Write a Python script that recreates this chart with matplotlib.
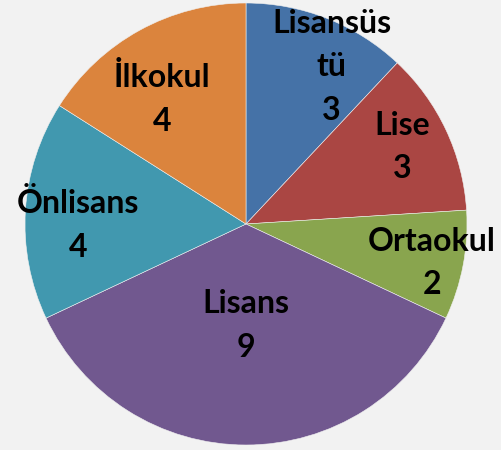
import numpy as np
import matplotlib.pyplot as plt

# Data
categories = ['Lisansüstü', 'Lise', 'Ortaokul', 'Lisans', 'Önlisans', 'İlkokul']
values = [3, 3, 2, 9, 4, 4]
display_names = ['Lisansüs\ntü', 'Lise', 'Ortaokul', 'Lisans', 'Önlisans', 'İlkokul']
colors = ['#4572A7', '#AA4643', '#89A54E', '#71588F', '#4198AF', '#DB843D']

# label placement (fraction of radius, angle offset in degrees)
label_dist = [0.81, 0.79, 0.86, 0.46, 0.76, 0.68]
label_shift = [-7, 1, -1, 0, 4, 5]

fig = plt.figure(figsize=(5.01, 4.5), dpi=100)
fig.patch.set_facecolor('#F2F2F2')
ax = fig.add_axes([25 / 501, 5 / 450, 442 / 501, 442 / 450])
ax.set_facecolor('#F2F2F2')

wedges, _ = ax.pie(values, colors=colors, startangle=90, counterclock=False,
                   radius=1, wedgeprops=dict(edgecolor='#f0f0f0', linewidth=0.4))

for w, name, v, d, s in zip(wedges, display_names, values, label_dist, label_shift):
    ang = np.deg2rad((w.theta1 + w.theta2) / 2 + s)
    ax.text(d * np.cos(ang), d * np.sin(ang), f'{name}\n{v}', ha='center', va='center',
            fontsize=23, fontweight='bold', family=['Lato', 'DejaVu Sans'],
            linespacing=1.6, color='black')

ax.set_xlim(-1, 1)
ax.set_ylim(-1, 1)
ax.set_aspect('equal')
ax.axis('off')

plt.savefig('out.png', dpi=100, facecolor=fig.get_facecolor())
